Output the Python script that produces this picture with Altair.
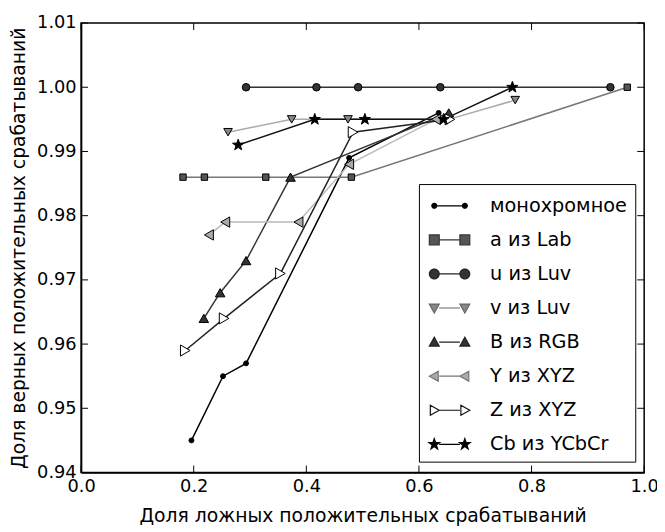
import math
import altair as alt
import pandas as pd

# ---------------- data ----------------
series = ["монохромное", "a из Lab", "u из Luv", "v из Luv",
          "B из RGB", "Y из XYZ", "Z из XYZ", "Cb из YCbCr"]

mono_x = [0.196, 0.252, 0.293, 0.476, 0.635]
mono_y = [0.945, 0.955, 0.957, 0.989, 0.996]
lab_x = [0.181, 0.219, 0.328, 0.480, 0.970]
lab_y = [0.986, 0.986, 0.986, 0.986, 1.000]
u_x = [0.293, 0.418, 0.492, 0.638, 0.940]
u_y = [1.000, 1.000, 1.000, 1.000, 1.000]
v_x = [0.261, 0.374, 0.474, 0.653, 0.771]
v_y = [0.993, 0.995, 0.995, 0.995, 0.998]
b_x = [0.218, 0.247, 0.293, 0.372, 0.653]
b_y = [0.964, 0.968, 0.973, 0.986, 0.996]
yx_x = [0.227, 0.256, 0.386, 0.476, 0.630]
yx_y = [0.977, 0.979, 0.979, 0.988, 0.995]
z_x = [0.185, 0.254, 0.354, 0.483, 0.655]
z_y = [0.959, 0.964, 0.971, 0.993, 0.995]
cb_x = [0.279, 0.415, 0.504, 0.644, 0.766]
cb_y = [0.991, 0.995, 0.995, 0.995, 1.000]

x_ticks = [0.0, 0.2, 0.4, 0.6, 0.8, 1.0]
y_ticks = [0.94, 0.95, 0.96, 0.97, 0.98, 0.99, 1.00, 1.01]

xs = [mono_x, lab_x, u_x, v_x, b_x, yx_x, z_x, cb_x]
ys = [mono_y, lab_y, u_y, v_y, b_y, yx_y, z_y, cb_y]

rows = []
for s, sx, sy in zip(series, xs, ys):
    for i, (a, b) in enumerate(zip(sx, sy)):
        rows.append({"series": s, "series2": s, "idx": i, "x": a, "y": b})
df = pd.DataFrame(rows)

# ---------------- styles ----------------
FONT = "DejaVu Sans"
line_colors = ["#000000", "#777777", "#333333", "#aaaaaa",
               "#333333", "#bbbbbb", "#222222", "#111111"]
fill_colors = ["#000000", "#555555", "#333333", "#888888",
               "#333333", "#aaaaaa", "#ffffff", "#000000"]
legend_strokes = ["#000000", "#333333", "#222222", "#666666",
                  "#222222", "#777777", "#111111", "#000000"]
sizes = [25, 144, 144, 150, 150, 150, 150, 150]


def f(v):
    return f"{v:.3f}"


def poly(pts):
    return "M" + "L".join(f"{f(px)},{f(py)}" for px, py in pts) + "Z"


def star(cx, r):
    pts = []
    for k in range(10):
        ang = math.radians(-90 + 36 * k)
        rr = r if k % 2 == 0 else r * 0.4
        pts.append((cx + rr * math.cos(ang), rr * math.sin(ang)))
    return poly(pts)


def marker(kind, cx, m):
    if kind == "circle":
        return poly([(cx + m * math.cos(math.radians(a)), m * math.sin(math.radians(a)))
                     for a in range(0, 360, 20)])
    if kind == "square":
        return poly([(cx - m, -m), (cx + m, -m), (cx + m, m), (cx - m, m)])
    if kind == "triangle-down":
        return poly([(cx - m, -0.8 * m), (cx + m, -0.8 * m), (cx, m)])
    if kind == "triangle-up":
        return poly([(cx - m, 0.8 * m), (cx + m, 0.8 * m), (cx, -m)])
    if kind == "triangle-left":
        return poly([(cx + 0.8 * m, -m), (cx + 0.8 * m, m), (cx - m, 0)])
    if kind == "triangle-right":
        return poly([(cx - 0.8 * m, -m), (cx - 0.8 * m, m), (cx + m, 0)])
    return star(cx, m * 1.15)


kinds = ["circle", "square", "circle", "triangle-down", "triangle-up",
         "triangle-left", "triangle-right", "star"]
plot_shapes = ["circle", "square", "circle", "triangle-down", "triangle-up",
               "triangle-left", "triangle-right", star(0, 1.0)]

A = 1.19
legend_paths = []
for i, k in enumerate(kinds):
    m = 0.19 if i == 0 else 0.385
    p = marker(k, -A, m) + marker(k, A, m) + f"M{f(-A + m)},0L{f(A - m)},0"
    legend_paths.append(p)

W, H = 570, 455
xscale = alt.Scale(domain=[0, 1], nice=False, zero=False)
yscale = alt.Scale(domain=[0.94, 1.01], nice=False, zero=False)

xaxis = alt.Axis(values=x_ticks, format=".1f", ticks=False, grid=False,
                 labelFlush=False, labelPadding=5, titlePadding=12,
                 title="Доля ложных положительных срабатываний")
yaxis = alt.Axis(values=y_ticks, format=".2f", ticks=False, grid=False,
                 labelFlush=False, labelPadding=5, titlePadding=8,
                 title="Доля верных положительных срабатываний")

base = alt.Chart(df)

lines = base.mark_line(strokeWidth=1.5).encode(
    x=alt.X("x:Q", scale=xscale, axis=xaxis),
    y=alt.Y("y:Q", scale=yscale, axis=yaxis),
    color=alt.Color("series:N", scale=alt.Scale(domain=series, range=line_colors), legend=None),
    detail="series:N",
    order="idx:Q",
)

points = base.mark_point(filled=True, stroke="black", strokeWidth=1, opacity=1).encode(
    x=alt.X("x:Q", scale=xscale),
    y=alt.Y("y:Q", scale=yscale),
    shape=alt.Shape("series:N", scale=alt.Scale(domain=series, range=plot_shapes), legend=None),
    fill=alt.Fill("series:N", scale=alt.Scale(domain=series, range=fill_colors), legend=None),
    size=alt.Size("series:N", scale=alt.Scale(domain=series, range=sizes), legend=None),
)

leg = alt.Legend(title=None, orient="none", legendX=342, legendY=163, padding=8,
                 symbolOffset=9, labelOffset=27, rowPadding=10.5, symbolSize=676,
                 symbolStrokeWidth=1.2, symbolOpacity=1,
                 labelFontSize=19.5, labelFont=FONT, labelColor="black", labelLimit=300,
                 strokeColor="black", fillColor="white", cornerRadius=0)

legend_layer = base.mark_point(filled=True, size=676, opacity=0, strokeWidth=1.2).encode(
    x=alt.X("x:Q", scale=xscale),
    y=alt.Y("y:Q", scale=yscale),
    shape=alt.Shape("series2:N", scale=alt.Scale(domain=series, range=legend_paths), legend=leg),
    fill=alt.Fill("series2:N", scale=alt.Scale(domain=series, range=fill_colors), legend=leg),
    stroke=alt.Stroke("series2:N", scale=alt.Scale(domain=series, range=legend_strokes), legend=leg),
)

xt = pd.DataFrame({"t": x_ticks})
yt = pd.DataFrame({"t": y_ticks})
TL = 7
tick_b = alt.Chart(xt).mark_rule(color="black", strokeWidth=1).encode(
    x=alt.X("t:Q", scale=xscale), y=alt.value(H), y2=alt.value(H - TL))
tick_t = alt.Chart(xt).mark_rule(color="black", strokeWidth=1).encode(
    x=alt.X("t:Q", scale=xscale), y=alt.value(0), y2=alt.value(TL))
tick_l = alt.Chart(yt).mark_rule(color="black", strokeWidth=1).encode(
    y=alt.Y("t:Q", scale=yscale), x=alt.value(0), x2=alt.value(TL))
tick_r = alt.Chart(yt).mark_rule(color="black", strokeWidth=1).encode(
    y=alt.Y("t:Q", scale=yscale), x=alt.value(W), x2=alt.value(W - TL))

chart = alt.layer(lines, tick_b, tick_t, tick_l, tick_r, points, legend_layer).resolve_scale(
    shape="independent", fill="independent", color="independent",
    size="independent", stroke="independent"
).properties(
    width=W, height=H,
    autosize=alt.AutoSizeParams(type="none"),
    padding={"left": 74, "top": 12, "right": 13, "bottom": 57},
).configure_view(
    stroke="black", strokeWidth=1.5
).configure_axis(
    labelFont=FONT, titleFont=FONT, labelFontSize=18, titleFontSize=19,
    labelColor="black", titleColor="black", titleFontWeight="normal",
    domainColor="black", domainWidth=1.5,
)

chart.save("out.html", embed_options={"renderer": "svg", "actions": False})
